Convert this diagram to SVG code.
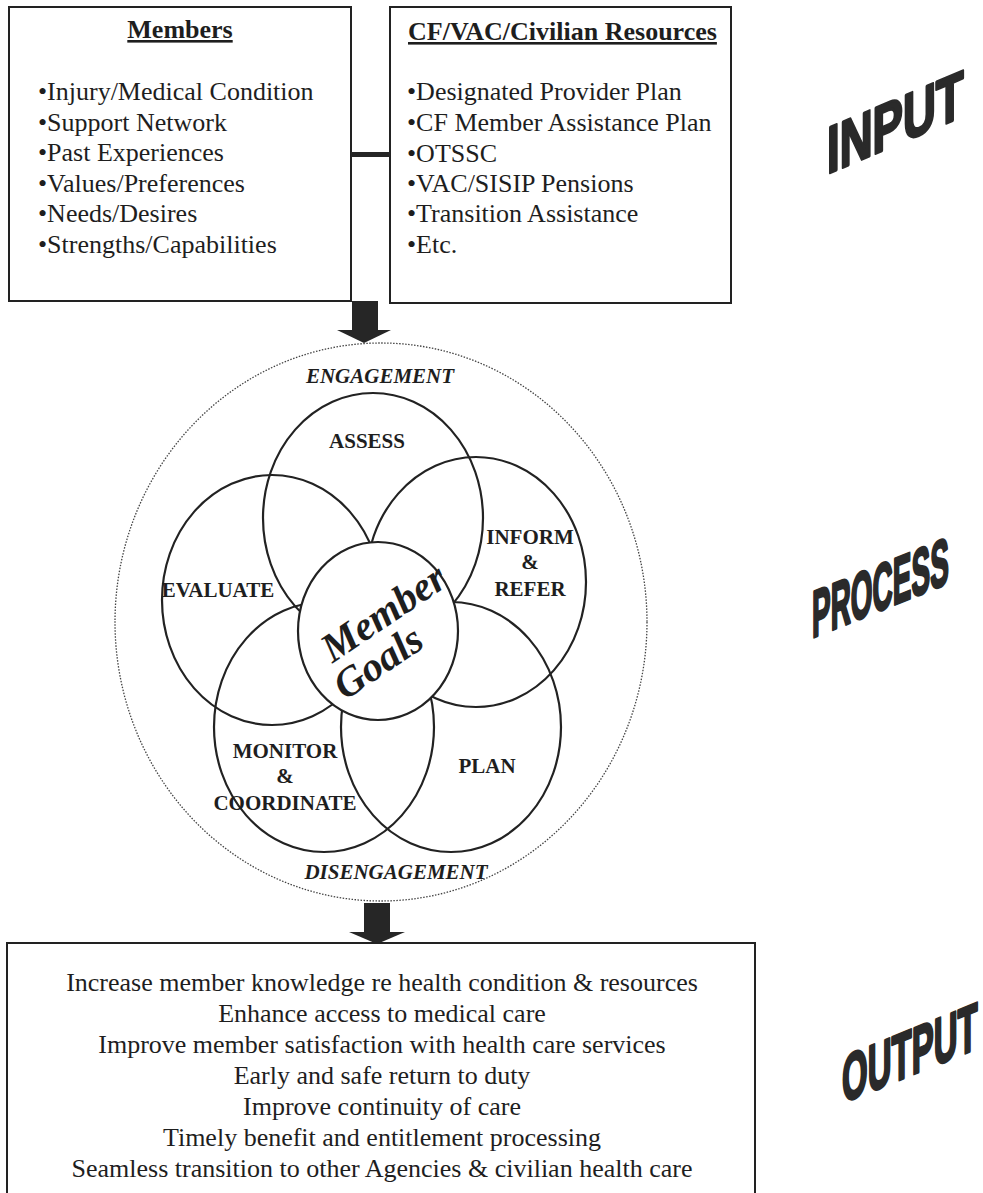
<svg xmlns="http://www.w3.org/2000/svg" width="983" height="1193" viewBox="0 0 983 1193">
<style>
.box{fill:none;stroke:#222;stroke-width:2}
.t{font-family:"Liberation Serif","Times New Roman",serif;fill:#1e1e1e}
.body{font-size:26px}
.title{font-size:26px;font-weight:bold;text-decoration:underline}
.lbl{font-size:21px;font-weight:bold;text-anchor:middle}
.eng{font-size:21px;font-weight:bold;font-style:italic;text-anchor:middle}
.petal{fill:none;stroke:#222;stroke-width:2.2}
.big{font-family:"Liberation Sans",Arial,sans-serif;font-weight:bold;font-size:66px;fill:#2a2a2a;stroke:#2a2a2a;stroke-width:3;stroke-linejoin:round}
.out{font-size:26px;text-anchor:middle}
.goal{font-size:41px;font-weight:bold;font-style:italic;text-anchor:middle}
.arrow{fill:#262626}
</style>
<rect width="983" height="1193" fill="#fff"/>

<g id="members">
<rect class="box" x="9" y="7" width="342" height="294"/>
<text class="t title" x="180" y="38" text-anchor="middle">Members</text>
<text class="t body" x="38" y="100">•Injury/Medical Condition</text>
<text class="t body" x="38" y="130.5">•Support Network</text>
<text class="t body" x="38" y="161">•Past Experiences</text>
<text class="t body" x="38" y="191.5">•Values/Preferences</text>
<text class="t body" x="38" y="222">•Needs/Desires</text>
<text class="t body" x="38" y="252.5">•Strengths/Capabilities</text>
</g>

<g id="resources">
<rect class="box" x="390" y="7" width="341" height="296"/>
<text class="t title" x="408" y="40">CF/VAC/Civilian Resources</text>
<text class="t body" x="407" y="100">•Designated Provider Plan</text>
<text class="t body" x="407" y="131">•CF Member Assistance Plan</text>
<text class="t body" x="407" y="162">•OTSSC</text>
<text class="t body" x="407" y="192">•VAC/SISIP Pensions</text>
<text class="t body" x="407" y="222">•Transition Assistance</text>
<text class="t body" x="407" y="253">•Etc.</text>
</g>

<g id="connectors">
<rect class="arrow" x="351" y="152" width="39" height="5"/>
<rect class="arrow" x="352" y="301" width="26" height="30"/>
<polygon class="arrow" points="337,330 391,330 364,343"/>
<rect class="arrow" x="364" y="903" width="26" height="30"/>
<polygon class="arrow" points="349,932 405,932 377,944"/>
</g>

<g id="process">
<ellipse cx="381" cy="622" rx="266" ry="279" fill="none" stroke="#444" stroke-width="1.3" stroke-dasharray="1.5,1.5"/>
<text class="t eng" x="380" y="383">ENGAGEMENT</text>
<text class="t eng" x="396" y="879">DISENGAGEMENT</text>
</g>

<g id="assess">
<ellipse class="petal" cx="373" cy="518" rx="110" ry="125"/>
<text class="t lbl" x="367" y="448">ASSESS</text>
</g>
<g id="evaluate">
<ellipse class="petal" cx="272" cy="600" rx="110" ry="125"/>
<text class="t lbl" x="218" y="597">EVALUATE</text>
</g>
<g id="inform">
<ellipse class="petal" cx="476" cy="582" rx="110" ry="125"/>
<text class="t lbl" x="530" y="544">INFORM</text>
<text class="t lbl" x="530" y="569">&amp;</text>
<text class="t lbl" x="530" y="596">REFER</text>
</g>
<g id="monitor">
<ellipse class="petal" cx="324" cy="727" rx="110" ry="125"/>
<text class="t lbl" x="285" y="758">MONITOR</text>
<text class="t lbl" x="285" y="783">&amp;</text>
<text class="t lbl" x="285" y="810">COORDINATE</text>
</g>
<g id="plan">
<ellipse class="petal" cx="451" cy="727" rx="110" ry="125"/>
<text class="t lbl" x="487" y="773">PLAN</text>
</g>
<g id="goals">
<ellipse cx="378" cy="631" rx="80" ry="89" fill="#fff" stroke="#222" stroke-width="2.2"/>
<g transform="translate(391,624) rotate(-34)">
<text class="t goal" x="0" y="0">Member</text>
<text class="t goal" x="-32" y="38">Goals</text>
</g>
</g>

<g id="output">
<rect class="box" x="7" y="943" width="748" height="260"/>
<text class="t out" x="382" y="991">Increase member knowledge re health condition &amp; resources</text>
<text class="t out" x="382" y="1022">Enhance access to medical care</text>
<text class="t out" x="382" y="1053">Improve member satisfaction with health care services</text>
<text class="t out" x="382" y="1084">Early and safe return to duty</text>
<text class="t out" x="382" y="1115">Improve continuity of care</text>
<text class="t out" x="382" y="1146">Timely benefit and entitlement processing</text>
<text class="t out" x="382" y="1177">Seamless transition to other Agencies &amp; civilian health care</text>
</g>

<g id="labels">
<text class="big" transform="translate(827,174) skewY(-23) scale(0.69,1)">INPUT</text>
<text class="big" transform="translate(812,638) skewY(-22) scale(0.424,1)">PROCESS</text>
<text class="big" transform="translate(842,1103) skewY(-22) scale(0.5,1)">OUTPUT</text>
</g>
</svg>
